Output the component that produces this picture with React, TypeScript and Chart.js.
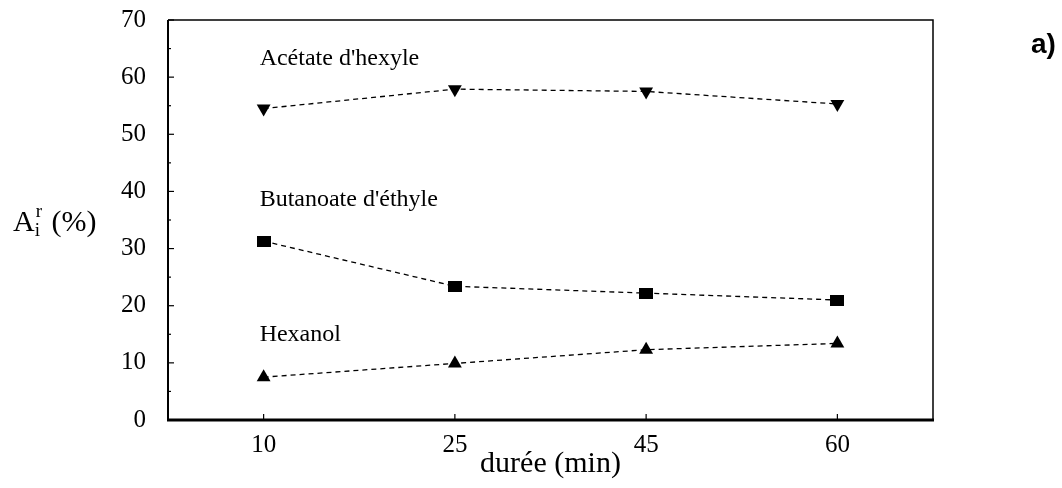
import React, { useEffect, useRef } from "react";
import { Chart, registerables } from "chart.js";

Chart.register(...registerables);

const durees = ["10", "25", "45", "60"];
const acetate = [54.5, 57.9, 57.5, 55.3];
const butanoate = [31.3, 23.4, 22.2, 21.0];
const hexanol = [7.5, 9.9, 12.3, 13.4];
const seriesNames = ["Acétate d'hexyle", "Butanoate d'éthyle", "Hexanol"];
const nameY = [63.3, 38.6, 14.9];
const yTicks = [0, 10, 20, 30, 40, 50, 60, 70];

const SERIF = "'Liberation Serif', 'Times New Roman', serif";

function makeRect(w: number, h: number) {
  const c = document.createElement("canvas");
  c.width = w;
  c.height = h;
  const g = c.getContext("2d")!;
  g.fillStyle = "#000";
  g.fillRect(0, 0, w, h);
  return c;
}

const decorPlugin = {
  id: "decor",
  afterDraw(chart: any) {
    const { ctx, chartArea: a, scales } = chart;
    const x = scales.x;
    const y = scales.y;
    ctx.save();
    ctx.strokeStyle = "#000";
    // frame
    ctx.lineWidth = 1.5;
    ctx.beginPath();
    ctx.moveTo(a.left, a.top);
    ctx.lineTo(a.right, a.top);
    ctx.lineTo(a.right, a.bottom);
    ctx.stroke();
    ctx.lineWidth = 2;
    ctx.beginPath();
    ctx.moveTo(a.left, a.top);
    ctx.lineTo(a.left, a.bottom);
    ctx.stroke();
    ctx.lineWidth = 3;
    ctx.beginPath();
    ctx.moveTo(a.left - 1, a.bottom);
    ctx.lineTo(a.right + 1, a.bottom);
    ctx.stroke();
    // y ticks inside
    ctx.lineWidth = 1.2;
    for (let v = 0; v <= 70; v += 5) {
      const py = y.getPixelForValue(v);
      const len = v % 10 === 0 ? 6 : 3;
      ctx.beginPath();
      ctx.moveTo(a.left, py);
      ctx.lineTo(a.left + len, py);
      ctx.stroke();
    }
    // x ticks inside
    durees.forEach((_, i) => {
      const px = x.getPixelForValue(i);
      ctx.beginPath();
      ctx.moveTo(px, a.bottom);
      ctx.lineTo(px, a.bottom - 6);
      ctx.stroke();
    });
    // series labels
    ctx.fillStyle = "#000";
    ctx.font = `24px ${SERIF}`;
    ctx.textAlign = "left";
    ctx.textBaseline = "middle";
    seriesNames.forEach((n, i) => {
      ctx.fillText(n, x.getPixelForValue(0) - 4, y.getPixelForValue(nameY[i]));
    });
    // x title
    ctx.font = `30px ${SERIF}`;
    ctx.textAlign = "center";
    ctx.fillText("durée (min)", (a.left + a.right) / 2, 464);
    // y title A_i^r (%)
    const ty = 223;
    let cx = 13;
    ctx.textAlign = "left";
    ctx.font = `30px ${SERIF}`;
    ctx.fillText("A", cx, ty);
    cx += ctx.measureText("A").width;
    ctx.font = `19px ${SERIF}`;
    ctx.fillText("i", cx, ty + 8);
    ctx.fillText("r", cx + 1, ty - 11);
    cx += ctx.measureText("r").width + 3;
    ctx.font = `30px ${SERIF}`;
    ctx.fillText(" (%)", cx, ty);
    // a)
    ctx.font = "bold 28px 'Liberation Sans', Arial, sans-serif";
    ctx.fillText("a)", 1031, 45);
    ctx.restore();
  },
};

export default function App() {
  const ref = useRef<HTMLCanvasElement>(null);
  useEffect(() => {
    document.body.style.margin = "0";
    const rect = makeRect(14, 11);
    const common = {
      borderColor: "#000",
      backgroundColor: "#000",
      borderWidth: 1.3,
      borderDash: [5, 4],
      tension: 0,
      fill: false,
      pointBorderWidth: 0,
      pointBorderColor: "#000",
      pointBackgroundColor: "#000",
    };
    const chart = new Chart(ref.current!, {
      type: "line",
      data: {
        labels: durees,
        datasets: [
          { ...common, label: seriesNames[0], data: acetate, pointStyle: "triangle", pointRotation: 180, pointRadius: 8 },
          { ...common, label: seriesNames[1], data: butanoate, pointStyle: rect as any, pointRadius: 7 },
          { ...common, label: seriesNames[2], data: hexanol, pointStyle: "triangle", pointRadius: 8 },
        ],
      },
      options: {
        animation: false,
        responsive: false,
        events: [],
        layout: { padding: { top: 20, right: 129, left: 0, bottom: 0 } },
        plugins: { legend: { display: false }, tooltip: { enabled: false } },
        scales: {
          x: {
            type: "category",
            offset: true,
            grid: { display: false },
            border: { display: false },
            ticks: { color: "#000", font: { family: SERIF, size: 25 }, padding: 2, maxRotation: 0 },
            afterFit: (s: any) => { s.height = 68; s.paddingLeft = 0; s.paddingRight = 0; },
          },
          y: {
            type: "linear",
            min: 0,
            max: 70,
            grid: { display: false },
            border: { display: false },
            afterBuildTicks: (s: any) => { s.ticks = yTicks.map((v) => ({ value: v })); },
            ticks: { color: "#000", font: { family: SERIF, size: 25 }, padding: 14 },
            afterFit: (s: any) => { s.width = 168; s.paddingTop = 0; s.paddingBottom = 0; },
          },
        },
      },
      plugins: [decorPlugin],
    });
    return () => chart.destroy();
  }, []);
  return <canvas ref={ref} width={1062} height={488} style={{ display: "block" }} />;
}
